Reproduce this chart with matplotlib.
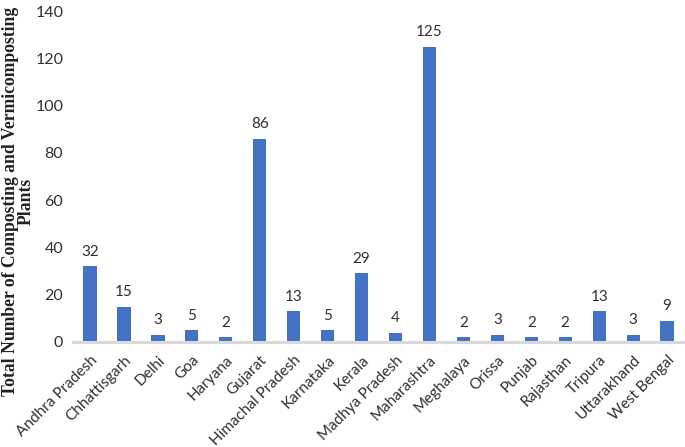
import matplotlib
matplotlib.use("Agg")
import matplotlib.pyplot as plt
import numpy as np

states = ["Andhra Pradesh", "Chhattisgarh", "Delhi", "Goa", "Haryana", "Gujarat",
          "Himachal Pradesh", "Karnataka", "Kerala", "Madhya Pradesh", "Maharashtra",
          "Meghalaya", "Orissa", "Punjab", "Rajasthan", "Tripura", "Uttarakhand",
          "West Bengal"]
plants = [32, 15, 3, 5, 2, 86, 13, 5, 29, 4, 125, 2, 3, 2, 2, 13, 3, 9]

bar_color = "#4472C4"
tick_font = "Lato"
text_color = "#303030"

fig = plt.figure(figsize=(6.85, 4.47), dpi=100)
ax = fig.add_axes([0.1066, 0.235, 0.892, 0.74])

x = np.arange(len(states))
ax.bar(x, plants, width=0.39, color=bar_color, zorder=2)

for xi, v in zip(x, plants):
    ax.annotate(str(v), (xi, v), xytext=(0, 5.5), textcoords="offset points",
                ha="center", va="bottom", fontsize=11, family=tick_font,
                color=text_color)

ax.set_ylim(0, 140)
ax.set_yticks(range(0, 141, 20))
ax.set_xlim(-0.5, len(states) - 0.5)
ax.set_xticks(x)
ax.set_xticklabels(states, rotation=45, ha="right", rotation_mode="anchor",
                   fontsize=11, family=tick_font, color=text_color)
for lbl in ax.get_yticklabels():
    lbl.set_fontsize(11.5)
    lbl.set_family(tick_font)
    lbl.set_color(text_color)

for side in ["top", "right", "left"]:
    ax.spines[side].set_visible(False)
ax.spines["bottom"].set_color("#D9D9D9")
ax.spines["bottom"].set_linewidth(2.2)
ax.tick_params(axis="both", length=0)
ax.tick_params(axis="y", pad=7)
ax.tick_params(axis="x", pad=8)

# size the serif y label so its long line spans ~390 px as in the source
line1 = "Total Number of Composting and Vermicomposting"
probe = fig.text(0, 0, line1, family="Liberation Serif", fontweight="bold",
                 fontsize=10)
w = probe.get_window_extent(renderer=fig.canvas.get_renderer()).width
probe.remove()
label_size = 10 * 390.0 / w

fig.text(0.027, 0.55, line1 + "\nPlants",
         rotation=90, ha="center", va="center", multialignment="center",
         family="Liberation Serif", fontweight="bold", fontsize=label_size,
         linespacing=0.85, color="#222222")

fig.savefig("out.png", dpi=100)
